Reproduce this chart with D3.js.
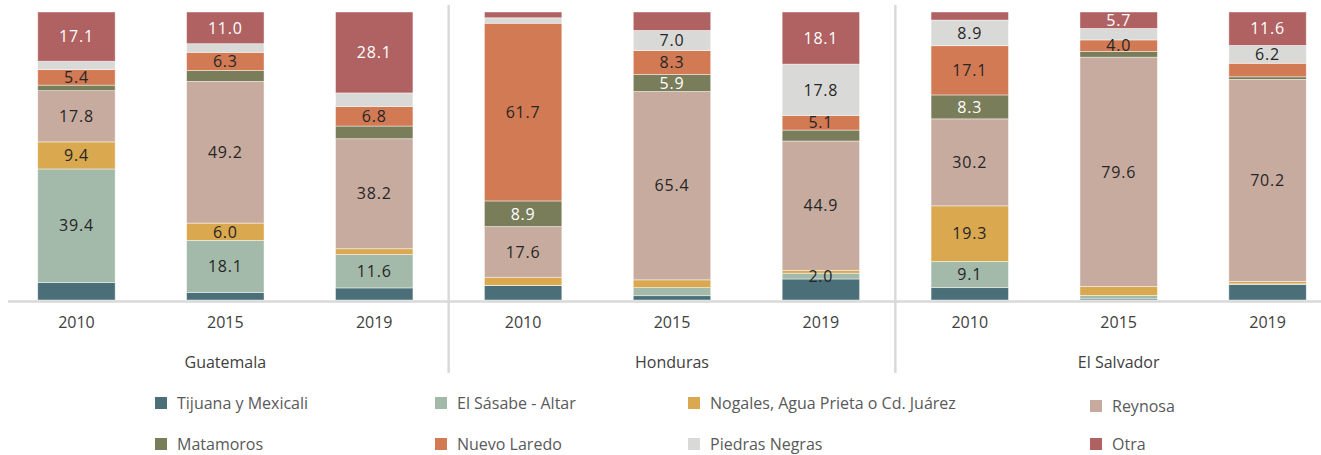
<!DOCTYPE html>
<html>
<head>
<meta charset="utf-8">
<script src="https://cdn.jsdelivr.net/npm/d3@7"></script>
<style>
  html, body { margin: 0; padding: 0; background: #ffffff; }
  svg { display: block; font-family: "Open Sans", sans-serif; }
</style>
</head>
<body>
<svg id="chart" width="1321" height="455"></svg>
<script>
// Countries and years (three stacked bars per country)
const countries = ["Guatemala", "Honduras", "El Salvador"];
const years = ["2010", "2015", "2019"];

// Crossing points, bottom to top of each stack
const seriesNames = [
  "Tijuana y Mexicali",
  "El Sásabe - Altar",
  "Nogales, Agua Prieta o Cd. Juárez",
  "Reynosa",
  "Matamoros",
  "Nuevo Laredo",
  "Piedras Negras",
  "Otra"
];

// Percent shares; order: GT 2010, 2015, 2019, HN 2010, 2015, 2019, SV 2010, 2015, 2019
const tijuana     = [6.1, 2.6, 4.2, 5.0, 1.5, 7.3, 4.3, 0.4, 5.4];
const sasabe      = [39.4, 18.1, 11.6, 0.1, 2.8, 2.0, 9.1, 1.2, 0.2];
const nogales     = [9.4, 6.0, 2.0, 2.8, 2.7, 1.0, 19.3, 3.1, 0.8];
const reynosa     = [17.8, 49.2, 38.2, 17.6, 65.4, 44.9, 30.2, 79.6, 70.2];
const matamoros   = [1.9, 3.8, 4.4, 8.9, 5.9, 3.8, 8.3, 2.0, 0.9];
const nuevoLaredo = [5.4, 6.3, 6.8, 61.7, 8.3, 5.1, 17.1, 4.0, 4.7];
const piedras     = [2.9, 3.0, 4.7, 1.9, 7.0, 17.8, 8.9, 4.0, 6.2];
const otra        = [17.1, 11.0, 28.1, 2.0, 6.4, 18.1, 2.8, 5.7, 11.6];

// Which segments carry a value label (1 = labelled)
const tijuanaLab     = [0, 0, 0, 0, 0, 0, 0, 0, 0];
const sasabeLab      = [1, 1, 1, 0, 0, 1, 1, 0, 0];
const nogalesLab     = [1, 1, 0, 0, 0, 0, 1, 0, 0];
const reynosaLab     = [1, 1, 1, 1, 1, 1, 1, 1, 1];
const matamorosLab   = [0, 0, 0, 1, 1, 0, 1, 0, 0];
const nuevoLaredoLab = [1, 1, 1, 1, 1, 1, 1, 1, 0];
const piedrasLab     = [0, 0, 0, 0, 1, 1, 1, 0, 1];
const otraLab        = [1, 1, 1, 0, 0, 1, 0, 1, 1];

const seriesValues = [tijuana, sasabe, nogales, reynosa, matamoros, nuevoLaredo, piedras, otra];
const seriesLabels = [tijuanaLab, sasabeLab, nogalesLab, reynosaLab, matamorosLab, nuevoLaredoLab, piedrasLab, otraLab];

const colors = ["#4a6f78", "#a3b9aa", "#d9a84f", "#c7ab9e", "#7a7d5a", "#d27a54", "#d9dad7", "#b06262"];
const labelColors = ["#ffffff", "#262626", "#262626", "#262626", "#ffffff", "#262626", "#262626", "#ffffff"];

// Build one row per bar for d3.stack
const bars = [];
countries.forEach((c, ci) => years.forEach((y, yi) => {
  const i = ci * years.length + yi;
  const row = { key: c + "|" + y, country: c, year: y, index: i };
  seriesNames.forEach((s, si) => { row[s] = seriesValues[si][i]; });
  bars.push(row);
}));

const svg = d3.select("#chart");
const plotTop = 12, plotBottom = 300;

const x = d3.scaleBand()
  .domain(bars.map(d => d.key))
  .range([2, 1342])
  .paddingInner(0.48)
  .paddingOuter(0.24);

const y = d3.scaleLinear().domain([0, 100]).range([plotBottom, plotTop]);

const stacked = d3.stack().keys(seriesNames)(bars);

// Stacked segments
const layer = svg.append("g").selectAll("g")
  .data(stacked)
  .join("g")
  .attr("fill", (d, i) => colors[i]);

layer.selectAll("rect")
  .data(d => d)
  .join("rect")
  .attr("x", d => x(d.data.key))
  .attr("width", x.bandwidth())
  .attr("y", d => y(d[1]))
  .attr("height", d => y(d[0]) - y(d[1]))
  .attr("stroke", "#ffffff")
  .attr("stroke-opacity", 0.55)
  .attr("stroke-width", 0.8);

// Value labels
stacked.forEach((s, si) => {
  svg.append("g").selectAll("text")
    .data(s.filter(d => seriesLabels[si][d.data.index] === 1))
    .join("text")
    .attr("x", d => x(d.data.key) + x.bandwidth() / 2)
    .attr("y", d => (y(d[0]) + y(d[1])) / 2)
    .attr("dy", "0.36em")
    .attr("text-anchor", "middle")
    .attr("font-size", 16)
    .attr("letter-spacing", 0.8)
    .attr("fill", labelColors[si])
    .text(d => seriesValues[si][d.data.index].toFixed(1));
});

// Baseline
svg.append("line")
  .attr("x1", 8).attr("x2", 1321)
  .attr("y1", plotBottom + 1.5).attr("y2", plotBottom + 1.5)
  .attr("stroke", "#d9d9d9").attr("stroke-width", 2.5);

// Separators between countries
const step = x.step();
[3, 6].forEach(k => {
  const sx = x(bars[k].key) - (step - x.bandwidth()) / 2;
  svg.append("line")
    .attr("x1", sx).attr("x2", sx)
    .attr("y1", 5).attr("y2", 373)
    .attr("stroke", "#d9d9d9").attr("stroke-width", 2.5);
});

// Year labels
svg.append("g").selectAll("text")
  .data(bars)
  .join("text")
  .attr("x", d => x(d.key) + x.bandwidth() / 2)
  .attr("y", 322)
  .attr("dy", "0.36em")
  .attr("text-anchor", "middle")
  .attr("font-size", 16)
  .attr("fill", "#404040")
  .text(d => d.year);

// Country labels, centred under the middle bar of each group
svg.append("g").selectAll("text")
  .data(countries)
  .join("text")
  .attr("x", (c, ci) => x(bars[ci * 3 + 1].key) + x.bandwidth() / 2)
  .attr("y", 362)
  .attr("dy", "0.36em")
  .attr("text-anchor", "middle")
  .attr("font-size", 16)
  .attr("fill", "#404040")
  .text(c => c);

// Legend: two rows of four
const legendCols = [155, 435, 688, 1090];
const legendRows = [403, 444];
const legend = svg.append("g").selectAll("g")
  .data(seriesNames)
  .join("g")
  .attr("transform", (d, i) => `translate(${legendCols[i % 4]},${legendRows[Math.floor(i / 4)] + (i === 3 ? 3 : 0)})`);

legend.append("rect")
  .attr("x", 0).attr("y", -6)
  .attr("width", 12).attr("height", 12)
  .attr("fill", (d, i) => colors[seriesNames.indexOf(d)]);

legend.append("text")
  .attr("x", 22)
  .attr("y", 0)
  .attr("dy", "0.36em")
  .attr("font-size", 16)
  .attr("fill", "#595959")
  .text(d => d);
</script>
</body>
</html>
